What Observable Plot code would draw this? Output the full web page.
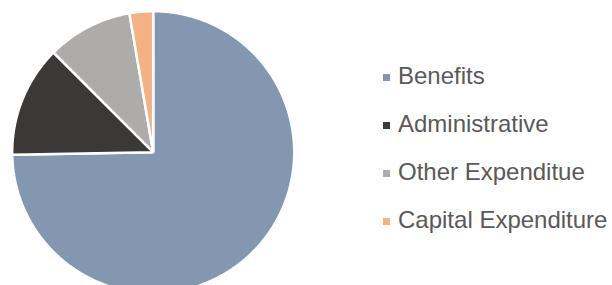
<!DOCTYPE html>
<html>
<head>
<meta charset="utf-8">
<script src="https://cdn.jsdelivr.net/npm/d3@7"></script>
<script src="https://cdn.jsdelivr.net/npm/@observablehq/plot@0.6"></script>
<style>
  html, body { margin: 0; padding: 0; background: #fff; overflow: hidden; }
  #wrap { position: relative; width: 612px; height: 285px; overflow: hidden; }
  #chart { position: absolute; left: 0; top: 0; }
  #legend { position: absolute; left: 383px; top: 52px; font-family: "Liberation Sans", Arial, sans-serif; font-size: 24px; color: #595959; }
  .row { height: 48px; line-height: 48px; display: flex; align-items: center; white-space: nowrap; }
  .sw { width: 7px; height: 7px; margin-right: 8px; flex: none; margin-top: 2px; }
</style>
</head>
<body>
<div id="wrap">
  <div id="chart"></div>
  <div id="legend"></div>
</div>
<script>
const categories = ["Benefits", "Administrative", "Other Expenditue", "Capital Expenditure"];
const values = [74.7, 12.8, 9.8, 2.7];
const colors = ["#8497B0", "#3B3838", "#AEABAB", "#F4B183"];

const data = categories.map((name, i) => ({name, value: values[i]}));
const arcs = d3.pie().sort(null).value(d => d.value)(data);

// Build slice outlines (center -> arc -> center) from pie angles
const points = [];
arcs.forEach(a => {
  const name = a.data.name;
  points.push({name, x: 0, y: 0});
  const n = Math.max(2, Math.ceil((a.endAngle - a.startAngle) / (Math.PI / 360)));
  for (let k = 0; k <= n; k++) {
    const t = a.startAngle + (a.endAngle - a.startAngle) * k / n;
    points.push({name, x: Math.sin(t), y: Math.cos(t)});
  }
});

const cx = 152.7, cy = 151.7, r = 141;
const chart = Plot.plot({
  width: 612,
  height: 285,
  margin: 0,
  style: {overflow: "hidden", background: "transparent"},
  x: {domain: [-1, 1], range: [cx - r, cx + r], axis: null},
  y: {domain: [-1, 1], range: [cy + r, cy - r], axis: null},
  color: {domain: categories, range: colors},
  marks: [
    Plot.line(points, {
      x: "x", y: "y", z: "name", fill: "name",
      stroke: "white", strokeWidth: 2.5, curve: "linear-closed",
      strokeLinejoin: "miter"
    })
  ]
});
document.getElementById("chart").appendChild(chart);

const legend = document.getElementById("legend");
categories.forEach((c, i) => {
  const row = document.createElement("div");
  row.className = "row";
  const sw = document.createElement("span");
  sw.className = "sw";
  sw.style.background = colors[i];
  const label = document.createElement("span");
  label.textContent = c;
  row.appendChild(sw);
  row.appendChild(label);
  legend.appendChild(row);
});
</script>
</body>
</html>
